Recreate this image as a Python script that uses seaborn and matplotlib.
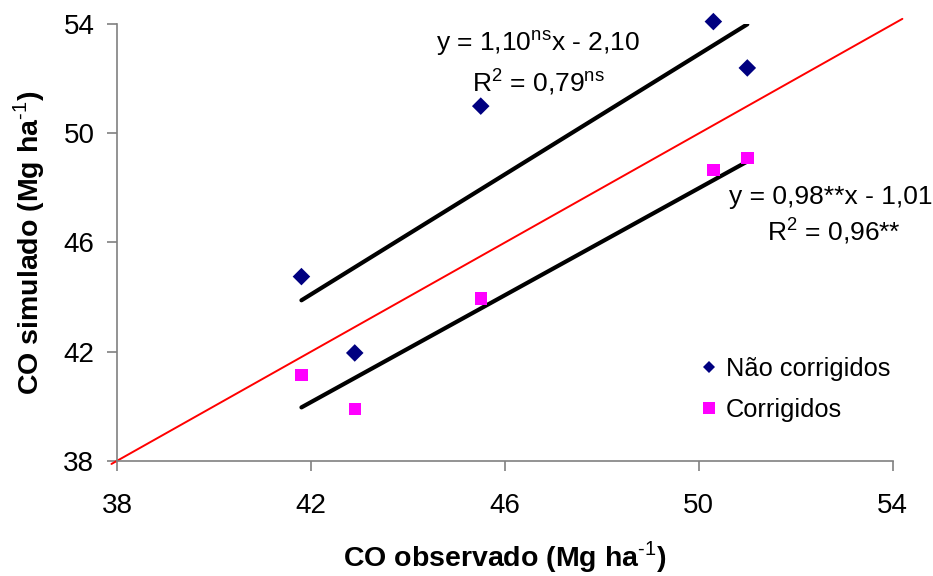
import numpy as np
import pandas as pd
import matplotlib
matplotlib.use("Agg")
import matplotlib.pyplot as plt
from matplotlib.lines import Line2D
import seaborn as sns

# ---- data ----
observed = [41.8, 42.9, 45.5, 50.3, 51.0]
sim_nao_corrigidos = [44.75, 41.95, 51.0, 54.1, 52.4]
sim_corrigidos = [41.15, 39.9, 43.95, 48.65, 49.1]
series_names = ["Não corrigidos", "Corrigidos"]
fit_nao = (1.10, -2.10)
fit_corr = (0.98, -1.01)
fit_x = [41.8, 51.0]
one_to_one = [37.88, 54.2]
ticks = [38, 42, 46, 50, 54]

sns.set_theme(style="white")
plt.rcParams['font.family'] = ['Liberation Sans', 'DejaVu Sans']
plt.rcParams['mathtext.fontset'] = 'custom'
plt.rcParams['mathtext.rm'] = 'Liberation Sans'
plt.rcParams['mathtext.bf'] = 'Liberation Sans:bold'
plt.rcParams['text.color'] = 'black'
plt.rcParams['axes.labelcolor'] = 'black'

df = pd.DataFrame({
    "obs": observed * 2,
    "sim": sim_nao_corrigidos + sim_corrigidos,
    "serie": [series_names[0]] * 5 + [series_names[1]] * 5,
})

fig = plt.figure(figsize=(9.33, 5.76), dpi=100)
ax = fig.add_axes([0.1257, 0.2002, 0.8311, 0.7576])

# 1:1 line
ax.plot(one_to_one, one_to_one, color="#ff0000", lw=1.4, clip_on=False, zorder=1)

# regression lines
fx = np.array(fit_x)
ax.plot(fx, fit_nao[0] * fx + fit_nao[1], color="black", lw=3, solid_capstyle="round", zorder=2)
ax.plot(fx, fit_corr[0] * fx + fit_corr[1], color="black", lw=3, solid_capstyle="round", zorder=2)

colors = {series_names[0]: "#000080", series_names[1]: "#ff00ff"}
markers = {series_names[0]: "D", series_names[1]: "s"}
sns.scatterplot(data=df, x="obs", y="sim", hue="serie", style="serie",
                palette=colors, markers=markers, s=80, linewidth=0,
                legend=False, ax=ax, zorder=3, clip_on=False)

ax.set_xlim(38, 54)
ax.set_ylim(38, 54)
ax.set_xticks(ticks)
ax.set_yticks(ticks)
ax.set_xticklabels([str(t) for t in ticks])
ax.set_yticklabels([str(t) for t in ticks])

for s in ["top", "right"]:
    ax.spines[s].set_visible(False)
for s in ["left", "bottom"]:
    ax.spines[s].set_color("#808080")
    ax.spines[s].set_linewidth(1.2)

ax.tick_params(axis="both", which="major", direction="out", length=7.5, width=1.2,
               color="#808080", labelsize=20, labelcolor="black",
               bottom=True, left=True, top=False, right=False)
ax.tick_params(axis="x", pad=16)
ax.tick_params(axis="y", pad=9)
ax.grid(False)

ax.set_xlabel("CO observado (Mg ha$^{\\text{-1}}$)", fontsize=20.5, fontweight="bold",
              labelpad=14, color="black")
ax.set_ylabel("CO simulado (Mg ha$^{\\text{-1}}$)", fontsize=20.5, fontweight="bold",
              labelpad=12, color="black")

# equations
fs = 19
ax.text(46.68, 53.3, "y = 1,10$^{\\mathregular{ns}}$x - 2,10", fontsize=fs, ha="center", va="center", color="black")
ax.text(46.7, 51.9, "R$^{\\mathregular{2}}$ = 0,79$^{\\mathregular{ns}}$", fontsize=fs, ha="center", va="center", color="black")
ax.text(52.72, 47.65, "y = 0,98**x - 1,01", fontsize=fs, ha="center", va="center", color="black")
ax.text(52.78, 46.45, "R$^{\\mathregular{2}}$ = 0,96**", fontsize=fs, ha="center", va="center", color="black")

handles = [
    Line2D([], [], marker="D", color="#000080", ls="", markersize=6.5, markeredgewidth=0),
    Line2D([], [], marker="s", color="#ff00ff", ls="", markersize=8, markeredgewidth=0),
]
leg = ax.legend(handles, series_names, loc="upper left", bbox_to_anchor=(0.732, 0.262),
                frameon=False, fontsize=18.3, handletextpad=0.1, handlelength=1.1,
                labelspacing=0.7, borderaxespad=0)
for t in leg.get_texts():
    t.set_color("black")

fig.savefig("out.png", dpi=100)
